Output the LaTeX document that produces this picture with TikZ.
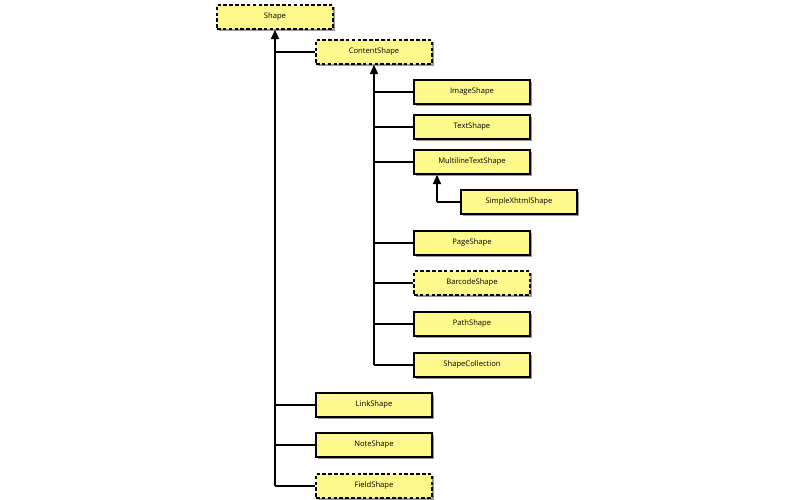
\documentclass[tikz,border=0pt]{standalone}
\usepackage{fontspec}
\setmainfont{Open Sans}
\usetikzlibrary{arrows.meta,shadows}
\tikzset{
  cls/.style={draw, line width=1.3pt, fill=yellow!45, minimum width=116*0.03cm, minimum height=24*0.03cm,
    font=\fontsize{6.5}{7}\selectfont, inner sep=0pt,
    drop shadow={shadow xshift=1.5pt, shadow yshift=-1.5pt, fill=black!40, opacity=1}},
  abs/.style={cls, dash pattern=on 3pt off 2pt},
  gen/.style={-{Triangle[width=7pt,length=8pt]}, line width=1pt},
}
\begin{document}
\begin{tikzpicture}[x=0.03cm,y=-0.03cm]
\useasboundingbox (0,0) rectangle (800,500);
% classes
\node[abs] (shape) at (275,17) {Shape};
\node[abs] (content) at (374,52) {ContentShape};
\node[cls] (image) at (472,92) {ImageShape};
\node[cls] (text) at (472,127) {TextShape};
\node[cls] (multi) at (472,162) {MultilineTextShape};
\node[cls] (xhtml) at (519,202) {SimpleXhtmlShape};
\node[cls] (page) at (472,243) {PageShape};
\node[abs] (barcode) at (472,283) {BarcodeShape};
\node[cls] (path) at (472,324) {PathShape};
\node[cls] (coll) at (472,365) {ShapeCollection};
\node[cls] (link) at (374,405) {LinkShape};
\node[cls] (note) at (374,445) {NoteShape};
\node[abs] (field) at (374,486) {FieldShape};
% generalisation
\coordinate (t1) at (275,486);
\coordinate (t2) at (374,365);
\coordinate (t3) at (437,202);
\draw[gen] (t1) -- (shape.south);
\draw[gen] (t2) -- (content.south);
\draw[gen] (t3) -- (multi.south -| t3);
\foreach \n in {content,link,note,field}
  \draw[line width=1pt] (\n.west) -- (\n.west -| t1);
\foreach \n in {image,text,multi,page,barcode,path,coll}
  \draw[line width=1pt] (\n.west) -- (\n.west -| t2);
\draw[line width=1pt] (xhtml.west) -- (xhtml.west -| t3);
\end{tikzpicture}
\end{document}
